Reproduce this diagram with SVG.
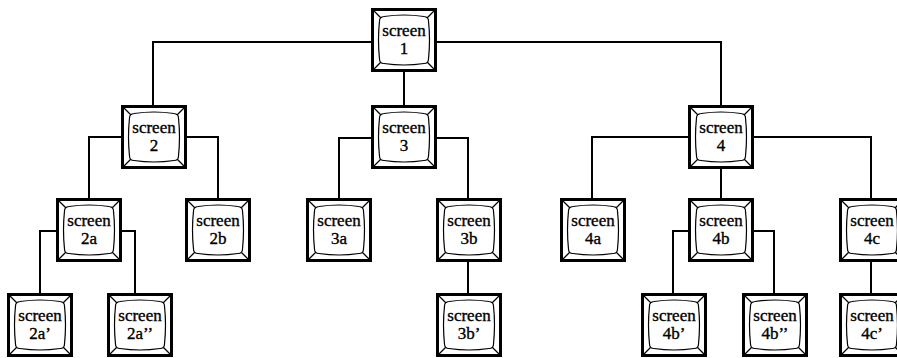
<svg xmlns="http://www.w3.org/2000/svg" width="897" height="358" viewBox="0 0 897 358">
<style>
.edge{fill:none;stroke:#000;stroke-width:2;stroke-linecap:square}
.outer{fill:#fff;stroke:#000;stroke-width:3}
.scr{fill:#fff;stroke:#000;stroke-width:1.2}
.diag{stroke:#000;stroke-width:1.3}
text{font-family:"Liberation Serif","Times New Roman",serif;font-size:17px;fill:#000;stroke:#000;stroke-width:0.35;text-anchor:middle}
</style>
<defs>
<g id="frame">
<rect class="outer" x="1.5" y="1.5" width="63" height="61"/>
<line class="diag" x1="3" y1="3" x2="10" y2="10"/>
<line class="diag" x1="63" y1="3" x2="56" y2="10"/>
<line class="diag" x1="63" y1="61" x2="56" y2="54"/>
<line class="diag" x1="3" y1="61" x2="10" y2="54"/>
<path class="scr" d="M13,8.5 Q33,5.5 53,8.5 Q57.5,9 57.5,13 Q59.5,32 57.5,51 Q57.5,55.5 53,55.5 Q33,58.5 13,55.5 Q8.5,55.5 8.5,51 Q6.5,32 8.5,13 Q8.5,9 13,8.5 Z"/>
</g>
</defs>
<g id="connectors">
<path class="edge" d="M371,42 H153 V105 M437,42 H721 V105 M404,72 V105"/>
<path class="edge" d="M121,137 H89 V198 M186,137 H218 V198"/>
<path class="edge" d="M371,138 H339 V198 M437,138 H468 V198"/>
<path class="edge" d="M688,137 H592 V198 M754,137 H871 V198 M721,169 V198"/>
<path class="edge" d="M56,231 H40 V293 M122,231 H135 V293"/>
<path class="edge" d="M468,262 V293"/>
<path class="edge" d="M688,231 H673 V293 M754,231 H774 V293"/>
<path class="edge" d="M871,262 V293"/>
</g>
<g id="screen1"><use href="#frame" x="371" y="8"/><text x="404" y="36">screen</text><text x="404" y="54">1</text></g>
<g id="screen2"><use href="#frame" x="121" y="105"/><text x="154" y="133">screen</text><text x="154" y="151">2</text></g>
<g id="screen3"><use href="#frame" x="371" y="105"/><text x="404" y="133">screen</text><text x="404" y="151">3</text></g>
<g id="screen4"><use href="#frame" x="688" y="105"/><text x="721" y="133">screen</text><text x="721" y="151">4</text></g>
<g id="screen2a"><use href="#frame" x="56" y="198"/><text x="89" y="226">screen</text><text x="89" y="244">2a</text></g>
<g id="screen2b"><use href="#frame" x="185" y="198"/><text x="218" y="226">screen</text><text x="218" y="244">2b</text></g>
<g id="screen3a"><use href="#frame" x="306" y="198"/><text x="339" y="226">screen</text><text x="339" y="244">3a</text></g>
<g id="screen3b"><use href="#frame" x="436" y="198"/><text x="469" y="226">screen</text><text x="469" y="244">3b</text></g>
<g id="screen4a"><use href="#frame" x="560" y="198"/><text x="593" y="226">screen</text><text x="593" y="244">4a</text></g>
<g id="screen4b"><use href="#frame" x="688" y="198"/><text x="721" y="226">screen</text><text x="721" y="244">4b</text></g>
<g id="screen4c"><use href="#frame" x="839" y="198"/><text x="872" y="226">screen</text><text x="872" y="244">4c</text></g>
<g id="screen2a1"><use href="#frame" x="7" y="293"/><text x="40" y="321">screen</text><text x="40" y="339">2a’</text></g>
<g id="screen2a2"><use href="#frame" x="107" y="293"/><text x="140" y="321">screen</text><text x="140" y="339">2a’’</text></g>
<g id="screen3b1"><use href="#frame" x="436" y="293"/><text x="469" y="321">screen</text><text x="469" y="339">3b’</text></g>
<g id="screen4b1"><use href="#frame" x="641" y="293"/><text x="674" y="321">screen</text><text x="674" y="339">4b’</text></g>
<g id="screen4b2"><use href="#frame" x="742" y="293"/><text x="775" y="321">screen</text><text x="775" y="339">4b’’</text></g>
<g id="screen4c1"><use href="#frame" x="839" y="293"/><text x="872" y="321">screen</text><text x="872" y="339">4c’</text></g>
</svg>
